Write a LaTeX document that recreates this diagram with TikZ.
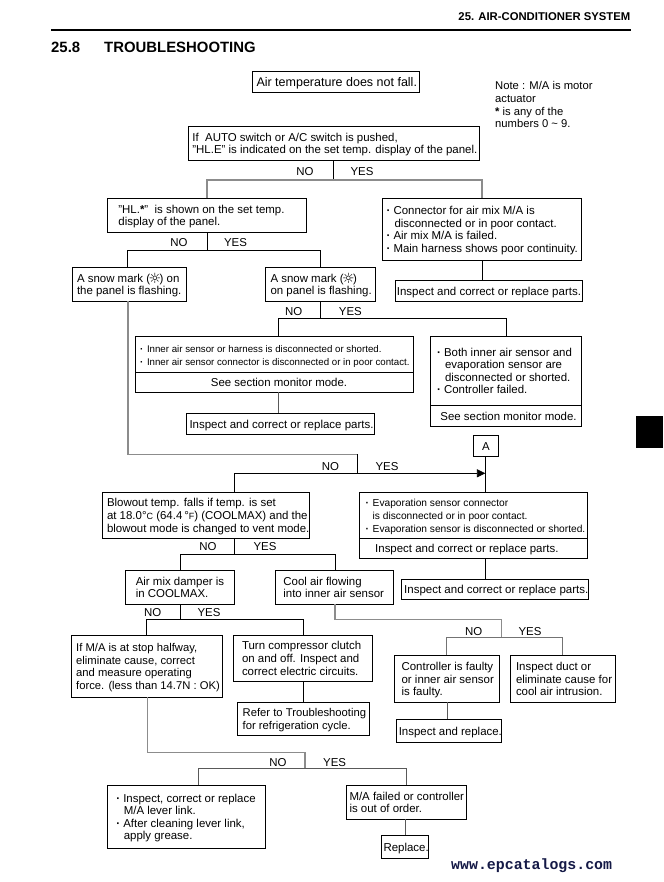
\documentclass[tikz,border=0pt]{standalone}
\usepackage{fontspec}
\setmainfont{Liberation Sans}
\newfontfamily\djv{DejaVu Sans}
\newfontfamily\wwwf{Liberation Mono}
\usetikzlibrary{arrows.meta}
\newcommand\mainf{\fontsize{11.45}{12.6}\selectfont}
\newcommand\airf{\fontsize{12.5}{13}\selectfont}
\newcommand\narf{\fontsize{11.25}{12.6}\selectfont}
\newcommand\insf{\fontsize{11.5}{12.6}\selectfont}
\newcommand\smallf{\fontsize{9.7}{13}\selectfont}
\newcommand\evapf{\fontsize{10.2}{12.6}\selectfont}
\newcommand\snow{\smash{\makebox[9.5pt]{\raisebox{-1pt}{\djv\bfseries\fontsize{14}{10}\selectfont ☼}}}}
\newcommand\bul{\makebox[7pt][l]{\textbf{·}}}
\newcommand\qq{\symbol{34}}
\definecolor{wwwc}{RGB}{20,25,70}
\tikzset{
  box/.style={draw=black,line width=0.9pt,inner sep=0pt,outer sep=0pt,anchor=north west,text=black},
  conn/.style={draw=black,line width=0.8pt},
  gconn/.style={draw=black!45,line width=1.3pt},
  lab/.style={inner sep=0pt,font=\mainf,text=black},
  plain/.style={inner sep=0pt,anchor=west,text=black,align=left}
}
% [font] name x1 y1 x2 y2 leftoffset text
\newcommand\bx[8][\mainf]{%
  \pgfmathsetlengthmacro\bw{(#5-#3)*1pt}%
  \pgfmathsetlengthmacro\bh{(#6-#4)*1pt}%
  \node[box,minimum width=\bw,minimum height=\bh] (#2) at (#3,#4) {\vbox{\vskip 3.4pt\hbox to \bw{\hspace*{#7pt}#1\begin{tabular}[c]{@{}l@{}}#8\end{tabular}\hss}}};
}
\begin{document}
\begin{tikzpicture}[x=1pt,y=-1pt]
\useasboundingbox (0,0) rectangle (663,882);
% header
\node[plain,anchor=east,font=\bfseries\fontsize{11.3}{12}\selectfont] (hdr) at (630.5,17) {25. AIR-CONDITIONER SYSTEM};
\coordinate (rl) at (51,30);
\coordinate (rr) at (631,30);
\draw[black,line width=2.2pt] (rl) -- (rr);
\node[plain,font=\bfseries\fontsize{14.9}{16}\selectfont] (secn) at (51,47.7) {25.8};
\node[plain,font=\bfseries\fontsize{14.9}{16}\selectfont] (sect) at (104,47.7) {TROUBLESHOOTING};
\fill[black] (636,416) rectangle (663,448);
% note
\node[plain,anchor=north west,font=\narf] (note) at (495,81.5) {Note : M/A is motor\\actuator\\\textbf{*} is any of the\\numbers 0 \textasciitilde{} 9.};
% boxes
\bx[\airf]{air}{252.5}{71.3}{419.5}{92.3}{4}{Air temperature does not fall.}
\bx{auto}{188.6}{126.3}{479.5}{160.3}{3.8}{If\ \ AUTO switch or A/C switch is pushed,\\\qq{}HL.E\qq{} is indicated on the set temp. display of the panel.}
\bx{hl}{107.4}{198.3}{306.5}{232.3}{11}{\qq{}HL.\textbf{*}\qq{}\ \ is shown on the set temp.\\display of the panel.}
\bx{conn}{382}{198.3}{581.4}{260.3}{4.5}{\bul Connector for air mix M/A is\\\hspace*{8pt}disconnected or in poor contact.\\\bul Air mix M/A is failed.\\\bul Main harness shows poor continuity.}
\bx{snowa}{72.3}{267.3}{186.5}{301.3}{4.7}{A snow mark (\snow) on\\the panel is flashing.}
\bx{snowb}{265.5}{267.3}{375.5}{301.3}{5}{A snow mark (\snow)\\on panel is flashing.}
\bx[\insf]{insa}{395.4}{280.3}{582.7}{301.7}{1.5}{Inspect and correct or replace parts.}
\bx[\smallf]{sensa}{135.4}{336.3}{413.5}{372.3}{4.6}{\bul Inner air sensor or harness is disconnected or shorted.\\\bul Inner air sensor connector is disconnected or in poor contact.}
\bx{sensb}{135.4}{372.3}{413.5}{392.3}{75.5}{See section monitor mode.}
\bx[\insf]{insb}{186.5}{413.3}{374.6}{434.3}{3}{Inspect and correct or replace parts.}
\bx{botha}{430.4}{336.3}{581.5}{405.3}{6.6}{\bul Both inner air sensor and\\\hspace*{8pt}evaporation sensor are\\\hspace*{8pt}disconnected or shorted.\\\bul Controller failed.}
\bx{bothb}{430.4}{405.3}{581.5}{426.3}{10}{See section monitor mode.}
\bx{a}{473.5}{435.3}{498.5}{456.7}{8.5}{A}
\bx{blow}{102.3}{492.3}{309.6}{538.3}{4.7}{Blowout temp. falls if temp. is set\\at 18.0\textdegree{}{\fontsize{9}{9}\selectfont C} (64.4\,\textdegree{}{\fontsize{9}{9}\selectfont F}) (COOLMAX) and the\\blowout mode is changed to vent mode.}
\bx[\evapf]{evaa}{359.2}{492.3}{587.7}{538.3}{6.5}{\bul Evaporation sensor connector\\\hspace*{7pt}is disconnected or in poor contact.\\\bul Evaporation sensor is disconnected or shorted.}
\bx{evab}{359.2}{538.3}{587.7}{558.3}{16}{Inspect and correct or replace parts.}
\bx{amix}{125.4}{570.3}{234.2}{604.3}{10.4}{Air mix damper is\\in COOLMAX.}
\bx{cool}{275.4}{570.3}{393.5}{604.3}{8}{Cool air flowing\\into inner air sensor}
\bx[\insf]{insc}{401.5}{579.3}{588.8}{599.7}{2.7}{Inspect and correct or replace parts.}
\bx[\narf]{ma}{71.5}{635.3}{222.7}{697.3}{4.7}{If M/A is at stop halfway,\\eliminate cause, correct\\and measure operating\\force. (less than 14.7N : OK)}
\bx{turn}{233.5}{635.3}{372.3}{681.3}{8.5}{Turn compressor clutch\\on and off. Inspect and\\correct electric circuits.}
\bx[\narf]{refer}{237.3}{702.3}{369.6}{735.3}{5.4}{Refer to Troubleshooting\\for refrigeration cycle.}
\bx{ctrl}{394.6}{655.3}{499.6}{702.3}{7}{Controller is faulty\\or inner air sensor\\is faulty.}
\bx{duct}{510.4}{655.3}{615.8}{702.3}{5.6}{Inspect duct or\\eliminate cause for\\cool air intrusion.}
\bx{insr}{396.5}{719.3}{501}{742.3}{2.3}{Inspect and replace.}
\bx{lever}{107.3}{785.3}{265.4}{848.3}{9}{\bul Inspect, correct or replace\\\hspace*{7.5pt}M/A lever link.\\\bul After cleaning lever link,\\\hspace*{7.5pt}apply grease.}
\bx{mafail}{346.5}{785.3}{466.5}{819.3}{3}{M/A failed or controller\\is out of order.}
\bx{repl}{381.5}{835.3}{428.8}{858.3}{2}{Replace.}
% junctions
\coordinate (j1) at (333.6,180); \coordinate (j1l) at (207,180); \coordinate (j1r) at (482,180);
\draw[conn] (auto.south -| j1) -- (j1);
\draw[gconn] (hl.north -| j1l) -- (j1l) -- (j1r) -- (conn.north -| j1r);
\coordinate (j2) at (207.6,250.3); \coordinate (j2l) at (127.7,250.3); \coordinate (j2r) at (320.5,250.3);
\draw[conn] (hl.south -| j2) -- (j2);
\draw[conn] (snowa.north -| j2l) -- (j2l) -- (j2r) -- (snowb.north -| j2r);
\draw[conn] (conn.south -| 482.5,0) -- (insa.north -| 482.5,0);
\coordinate (j3) at (320.4,318.3); \coordinate (j3l) at (278.5,318.3); \coordinate (j3r) at (506.5,318.3);
\draw[conn] (snowb.south -| j3) -- (j3);
\draw[conn] (sensa.north -| j3l) -- (j3l) -- (j3r) -- (botha.north -| j3r);
\draw[conn,draw=black!65] (sensb.south -| 278.8,0) -- (insb.north -| 278.8,0);
\coordinate (j4a) at (128,454.3); \coordinate (j4b) at (357.7,454.3); \coordinate (j4) at (357.7,473.3);
\coordinate (j4l) at (234.2,473.3); \coordinate (j4r) at (485.4,473.3);
\draw[gconn] (snowa.south -| j4a) -- (j4a) -- (j4b);
\draw[conn] (j4b) -- (j4);
\draw[conn] (blow.north -| j4l) -- (j4l) -- (j4);
\draw[-{Triangle[length=8.5pt,width=8pt]},conn] (j4) -- (j4r);
\draw[conn] (a.south -| j4r) -- (evaa.north -| j4r);
\coordinate (j5) at (234.2,554.3); \coordinate (j5l) at (180.4,554.3); \coordinate (j5r) at (335.8,554.3);
\draw[conn] (blow.south -| j5) -- (j5);
\draw[conn] (amix.north -| j5l) -- (j5l) -- (j5r) -- (cool.north -| j5r);
\draw[conn] (evab.south -| j4r) -- (insc.north -| j4r);
\coordinate (j6) at (180.4,619.3); \coordinate (j6l) at (146.5,619.3); \coordinate (j6r) at (303.5,619.3);
\draw[conn] (amix.south -| j6) -- (j6);
\draw[conn] (ma.north -| j6l) -- (j6l) -- (j6r) -- (turn.north -| j6r);
\draw[conn] (turn.south -| j6r) -- (refer.north -| j6r);
\coordinate (j7a) at (335,619.3); \coordinate (j7b) at (501.5,619.3); \coordinate (j7) at (501.5,637.3);
\coordinate (j7l) at (446.5,637.3); \coordinate (j7r) at (562.7,637.3);
\draw[gconn] (cool.south -| j7a) -- (j7a) -- (j7b) -- (j7);
\draw[conn,draw=black!55,line width=1pt] (ctrl.north -| j7l) -- (j7l) -- (j7r) -- (duct.north -| j7r);
\draw[conn,draw=black!65] (ctrl.south -| 447,0) -- (insr.north -| 447,0);
\coordinate (j8a) at (147.3,752.7); \coordinate (j8b) at (305,752.7); \coordinate (j8) at (305,768.7);
\coordinate (j8l) at (198.8,768.7); \coordinate (j8r) at (406,768.7);
\draw[gconn] (ma.south -| j8a) -- (j8a) -- (j8b) -- (j8);
\draw[conn,draw=black!65,line width=1pt] (lever.north -| j8l) -- (j8l) -- (j8r) -- (mafail.north -| j8r);
\draw[conn,draw=black!65] (mafail.south -| 405.8,0) -- (repl.north -| 405.8,0);
% NO / YES
\foreach \n/\x/\y/\t in {n1/305/171.7/NO,y1/362/171.7/YES,n2/179/242.7/NO,y2/235.5/242.7/YES,n3/293.8/311.7/NO,y3/350.4/311.7/YES,n4/330.4/466.7/NO,y4/387/466.7/YES,n5/208/546.7/NO,y5/265/546.7/YES,n6/152.7/612.7/NO,y6/209/612.7/YES,n7/473.8/631.7/NO,y7/530/631.7/YES,n8/278/762.7/NO,y8/334.6/762.7/YES}
  \node[lab] (\n) at (\x,\y) {\t};
\node[plain,font=\wwwf\bfseries\fontsize{14.9}{15}\selectfont,text=wwwc] (www) at (451,866) {www.epcatalogs.com};
\end{tikzpicture}
\end{document}
